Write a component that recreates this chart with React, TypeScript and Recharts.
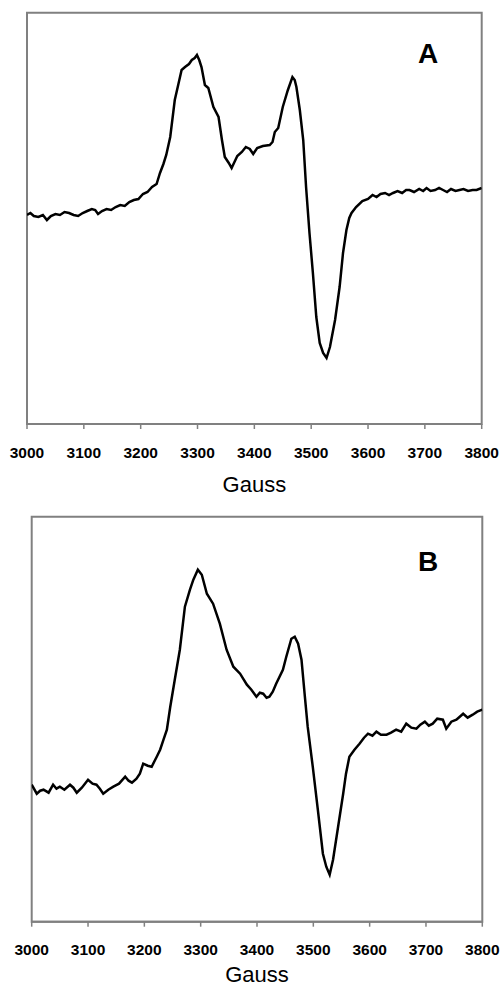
import React from 'react';
import { LineChart, Line, XAxis, YAxis, ReferenceArea } from 'recharts';

// Panel A: field (Gauss) and EPR signal (arbitrary units)
const gaussA = [3000, 3006, 3012, 3020, 3028, 3035, 3042, 3050, 3058, 3066, 3074, 3082, 3090, 3098, 3106, 3114, 3120, 3125, 3132, 3140, 3148, 3156, 3164, 3172, 3180, 3188, 3196, 3204, 3212, 3220, 3228, 3234, 3240, 3245, 3252, 3260, 3266, 3272, 3278, 3285, 3290, 3295, 3299, 3303, 3307, 3313, 3319, 3328, 3337, 3343, 3348, 3355, 3360, 3365, 3370, 3378, 3385, 3392, 3398, 3405, 3415, 3427, 3432, 3436, 3442, 3450, 3459, 3467, 3471, 3474, 3480, 3486, 3491, 3497, 3503, 3509, 3515, 3521, 3527, 3533, 3542, 3550, 3556, 3562, 3567, 3571, 3579, 3590, 3600, 3608, 3615, 3622, 3630, 3637, 3644, 3652, 3660, 3667, 3673, 3681, 3690, 3697, 3703, 3710, 3718, 3725, 3732, 3739, 3746, 3754, 3761, 3768, 3776, 3784, 3791, 3800];
const signalA = [209, 211, 208, 207, 209, 204, 208, 210, 209, 212, 211, 209, 208, 211, 213, 215, 214, 210, 213, 215, 214, 217, 219, 218, 222, 224, 225, 230, 232, 237, 240, 251, 260, 269, 287, 324, 339, 354, 357, 360, 364, 366, 369, 364, 357, 339, 336, 317, 307, 284, 267, 261, 256, 262, 268, 272, 277, 275, 270, 276, 278, 279, 282, 292, 296, 317, 334, 347, 344, 337, 314, 284, 237, 191, 151, 107, 81, 71, 66, 77, 104, 137, 171, 194, 206, 211, 217, 223, 225, 229, 227, 230, 231, 229, 231, 233, 231, 234, 234, 232, 235, 233, 236, 233, 234, 236, 234, 232, 235, 233, 234, 235, 233, 234, 234, 236];

// Panel B
const gaussB = [3000, 3009, 3015, 3021, 3030, 3038, 3044, 3050, 3058, 3068, 3074, 3080, 3089, 3100, 3108, 3115, 3121, 3127, 3136, 3145, 3155, 3166, 3172, 3178, 3186, 3192, 3198, 3206, 3213, 3222, 3228, 3234, 3240, 3246, 3254, 3263, 3272, 3281, 3287, 3295, 3302, 3311, 3322, 3334, 3346, 3358, 3370, 3382, 3390, 3399, 3405, 3411, 3417, 3422, 3428, 3434, 3446, 3452, 3461, 3467, 3473, 3479, 3485, 3490, 3499, 3508, 3517, 3523, 3529, 3535, 3544, 3553, 3558, 3564, 3573, 3582, 3590, 3597, 3605, 3612, 3620, 3630, 3638, 3647, 3656, 3665, 3674, 3683, 3690, 3698, 3705, 3712, 3720, 3730, 3736, 3745, 3754, 3760, 3766, 3774, 3783, 3791, 3800];
const signalB = [137, 128, 131, 132, 129, 137, 133, 135, 132, 137, 134, 129, 134, 142, 138, 137, 133, 128, 132, 135, 138, 145, 141, 139, 143, 148, 158, 156, 155, 165, 172, 182, 192, 215, 242, 272, 315, 332, 342, 352, 347, 328, 318, 298, 272, 255, 248, 237, 232, 225, 229, 228, 224, 225, 230, 238, 252, 265, 283, 285, 278, 262, 225, 195, 155, 112, 68, 55, 47, 62, 95, 128, 148, 165, 172, 178, 184, 188, 186, 190, 187, 187, 189, 192, 190, 198, 194, 193, 197, 200, 196, 198, 203, 202, 193, 200, 202, 205, 208, 204, 207, 210, 212];

const ticks = [3000, 3100, 3200, 3300, 3400, 3500, 3600, 3700, 3800];

const dataA = gaussA.map((g, i) => ({ g, v: signalA[i] }));
const dataB = gaussB.map((g, i) => ({ g, v: signalB[i] }));

const FONT = '"Liberation Sans", Arial, sans-serif';
const GRAY = '#808080';

function Panel({ data, top, height, margin, maxY, axisHeight, tickMargin, labelOffset, letter, letterY }: any) {
  return (
    <div style={{ position: 'absolute', left: 0, top }}>
      <LineChart width={503} height={height} data={data} margin={margin}>
        <XAxis
          dataKey="g"
          type="number"
          domain={[3000, 3800]}
          ticks={ticks}
          interval={0}
          allowDataOverflow
          height={axisHeight}
          tickSize={5}
          tickMargin={tickMargin}
          axisLine={{ stroke: GRAY, strokeWidth: 2 }}
          tickLine={{ stroke: GRAY, strokeWidth: 1.5 }}
          tick={{ fill: '#000', fontSize: 15.5, fontWeight: 'bold', fontFamily: FONT }}
          label={{ value: 'Gauss', position: 'insideBottom', offset: labelOffset, fill: '#000', fontSize: 22, fontFamily: FONT }}
        />
        <YAxis hide type="number" domain={[0, maxY]} allowDataOverflow />
        <ReferenceArea x1={3000} x2={3800} y1={0} y2={maxY} fill="none" stroke={GRAY} strokeWidth={2} ifOverflow="visible" />
        <Line
          type="linear"
          dataKey="v"
          stroke="#000"
          strokeWidth={2.5}
          dot={false}
          isAnimationActive={false}
        />
      </LineChart>
      <div
        style={{
          position: 'absolute',
          left: 428,
          top: letterY,
          transform: 'translate(-50%, 0)',
          fontFamily: FONT,
          fontWeight: 'bold',
          fontSize: 28,
          lineHeight: '28px',
          color: '#000',
        }}
      >
        {letter}
      </div>
    </div>
  );
}

export default function App() {
  return (
    <div style={{ position: 'absolute', left: 0, top: 0, width: 503, height: 988, background: '#fff' }}>
      <Panel
        data={dataA}
        top={0}
        height={500}
        margin={{ top: 12.7, right: 21.3, left: 27, bottom: 0 }}
        maxY={411.3}
        axisHeight={76}
        tickMargin={17.5}
        labelOffset={8}
        letter="A"
        letterY={40}
      />
      <Panel
        data={dataB}
        top={500}
        height={488}
        margin={{ top: 16.7, right: 20.7, left: 31.7, bottom: 0 }}
        maxY={405}
        axisHeight={66.3}
        tickMargin={16.8}
        labelOffset={6}
        letter="B"
        letterY={48}
      />
    </div>
  );
}
